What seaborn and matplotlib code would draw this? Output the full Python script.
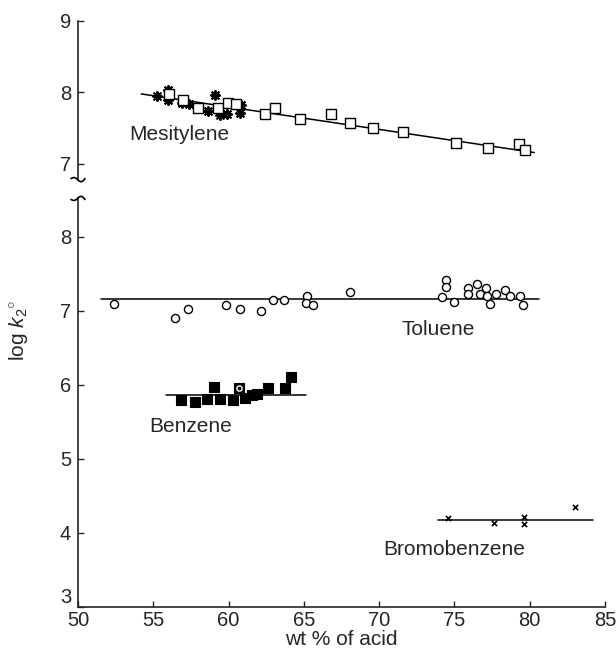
import numpy as np
import matplotlib
matplotlib.use("Agg")
import matplotlib.pyplot as plt
from matplotlib.lines import Line2D
import seaborn as sns

# ---- Mesitylene (upper panel) ----
mes_sq_x = [56.07, 57.00, 57.99, 59.31, 59.97, 60.51, 62.39, 63.07, 64.77, 66.79,
            68.09, 69.56, 71.56, 75.08, 77.21, 79.29, 79.72]
mes_sq_y = [7.98, 7.90, 7.78, 7.79, 7.85, 7.84, 7.70, 7.78, 7.63, 7.70,
            7.58, 7.50, 7.45, 7.30, 7.23, 7.28, 7.20]
mes_st_x = [55.23, 56.01, 56.01, 56.88, 57.37, 58.65, 59.09, 59.44, 59.90, 60.85, 60.76]
mes_st_y = [7.95, 8.03, 7.89, 7.85, 7.84, 7.74, 7.97, 7.69, 7.70, 7.82, 7.71]
mes_fit_x = [54.2, 80.3]
mes_fit_y = [7.98, 7.16]

# ---- Toluene ----
tol_x = [52.42, 56.47, 57.31, 59.83, 60.78, 62.17, 62.96, 63.71, 65.20, 65.16,
         65.62, 68.07, 74.44, 74.44, 74.16, 74.97, 75.92, 75.92, 76.47, 76.69,
         77.08, 77.18, 77.39, 77.79, 78.34, 78.67, 79.37, 79.55]
tol_y = [7.09, 6.90, 7.02, 7.08, 7.02, 7.00, 7.14, 7.15, 7.20, 7.10,
         7.08, 7.25, 7.41, 7.32, 7.18, 7.11, 7.31, 7.22, 7.36, 7.22,
         7.31, 7.20, 7.09, 7.22, 7.28, 7.20, 7.20, 7.07]
tol_fit_x = [51.56, 80.63]
tol_fit_y = [7.155, 7.155]

# ---- Benzene ----
benz_x = [56.84, 57.77, 58.60, 59.04, 59.42, 60.30, 60.67, 61.07, 61.55, 61.86,
          62.60, 63.75, 64.15]
benz_y = [5.79, 5.77, 5.81, 5.97, 5.81, 5.79, 5.96, 5.82, 5.86, 5.88,
          5.96, 5.96, 6.11]
benz_ring_x = [60.67]
benz_ring_y = [5.96]
benz_fit_x = [55.83, 65.14]
benz_fit_y = [5.865, 5.865]

# ---- Bromobenzene ----
brom_x = [74.60, 77.61, 79.59, 79.59, 83.0]
brom_y = [4.20, 4.14, 4.22, 4.12, 4.35]
brom_fit_x = [73.94, 84.17]
brom_fit_y = [4.176, 4.176]

x_ticks = [50, 55, 60, 65, 70, 75, 80, 85]
low_ticks = [3, 4, 5, 6, 7, 8]
up_ticks = [7, 8, 9]

sns.set_style("ticks")
plt.rcParams["font.family"] = ["Liberation Sans", "DejaVu Sans"]
plt.rcParams["mathtext.fontset"] = "custom"
plt.rcParams["mathtext.it"] = "Liberation Sans:italic"
plt.rcParams["mathtext.rm"] = "Liberation Sans"

W, H = 616, 650
fig = plt.figure(figsize=(W / 100, H / 100), dpi=100)

ax_l = 78 / W
ax_w = (605 - 78) / W
ax_low = fig.add_axes([ax_l, (H - 607) / H, ax_w, (607 - 198) / H])
ax_up = fig.add_axes([ax_l, (H - 180) / H, ax_w, (180 - 21) / H])

LW = 1.1
TXT = 15
TICK = 14.5

# fitted lines
sns.lineplot(x=mes_fit_x, y=mes_fit_y, color="black", lw=LW, ax=ax_up, zorder=1)
sns.lineplot(x=tol_fit_x, y=tol_fit_y, color="black", lw=LW, ax=ax_low, zorder=1)
sns.lineplot(x=benz_fit_x, y=benz_fit_y, color="black", lw=LW, ax=ax_low, zorder=1)
sns.lineplot(x=brom_fit_x, y=brom_fit_y, color="black", lw=LW, ax=ax_low, zorder=1)

# points
sns.scatterplot(x=mes_st_x, y=mes_st_y, marker=(8, 2, 0), s=42, color="black",
                linewidth=1.4, ax=ax_up, zorder=3)
sns.scatterplot(x=mes_sq_x, y=mes_sq_y, marker="s", s=55, facecolor="white",
                edgecolor="black", linewidth=1.0, ax=ax_up, zorder=4)
sns.scatterplot(x=tol_x, y=tol_y, marker="o", s=34, facecolor="white",
                edgecolor="black", linewidth=1.0, ax=ax_low, zorder=3)
sns.scatterplot(x=benz_x, y=benz_y, marker="s", s=46, color="black",
                edgecolor="black", linewidth=0.8, ax=ax_low, zorder=3)
sns.scatterplot(x=benz_ring_x, y=benz_ring_y, marker="o", s=14, facecolor="black",
                edgecolor="white", linewidth=1.0, ax=ax_low, zorder=4)
sns.scatterplot(x=brom_x, y=brom_y, marker="x", s=14, color="black",
                linewidth=1.2, ax=ax_low, zorder=3)

# compound names
ax_up.text(53.4, 7.41, "Mesitylene", fontsize=TXT, ha="left", va="center")
ax_low.text(71.5, 6.74, "Toluene", fontsize=TXT, ha="left", va="center")
ax_low.text(54.7, 5.43, "Benzene", fontsize=TXT, ha="left", va="center")
ax_low.text(70.3, 3.77, "Bromobenzene", fontsize=TXT, ha="left", va="center")

# lower axes
ax_low.set_xlim(50, 85)
ax_low.set_ylim(3, 8.52)
ax_low.set_xticks(x_ticks)
ax_low.set_xticklabels([str(t) for t in x_ticks])
ax_low.set_yticks(low_ticks)
ax_low.set_yticklabels([str(t) for t in low_ticks])
ax_low.tick_params(direction="in", length=4, width=1.0, labelsize=TICK, pad=3)
ax_low.tick_params(axis="y", pad=5)
# lift the lowest y label so it sits above the corner
ax_low.get_yticklabels()[0].set_verticalalignment("bottom")
for side in ("top", "right"):
    ax_low.spines[side].set_visible(False)
for side in ("left", "bottom"):
    ax_low.spines[side].set_linewidth(1.2)
ax_low.set_xlabel("wt % of acid", fontsize=TXT, labelpad=0)

# upper axes
ax_up.set_xlim(50, 85)
ax_up.set_ylim(6.776, 9)
ax_up.set_yticks(up_ticks)
ax_up.set_yticklabels([str(t) for t in up_ticks])
ax_up.set_xticks([])
ax_up.tick_params(axis="y", direction="in", length=4, width=1.0, labelsize=TICK, pad=5)
for side in ("top", "right", "bottom"):
    ax_up.spines[side].set_visible(False)
ax_up.spines["left"].set_linewidth(1.2)
ax_up.patch.set_alpha(0)
ax_low.patch.set_alpha(0)

# axis-break squiggles on the y axis
t = np.linspace(-1, 1, 40)
bx = (78 + 7 * t) / W
fig.add_artist(Line2D(bx, (H - 180 - 2.0 * np.sin(np.pi * t) + 1.5 * t**2) / H,
                      color="black", lw=1.2, transform=fig.transFigure))
fig.add_artist(Line2D(bx, (H - 198 + 2.0 * np.sin(np.pi * t) - 1.5 * t**2) / H,
                      color="black", lw=1.2, transform=fig.transFigure))

fig.text(18 / W, 1 - 330 / H, r"log $k_2{}^{\circ}$", rotation=90,
         fontsize=TXT, ha="center", va="center")

fig.savefig("out.png", dpi=100)
